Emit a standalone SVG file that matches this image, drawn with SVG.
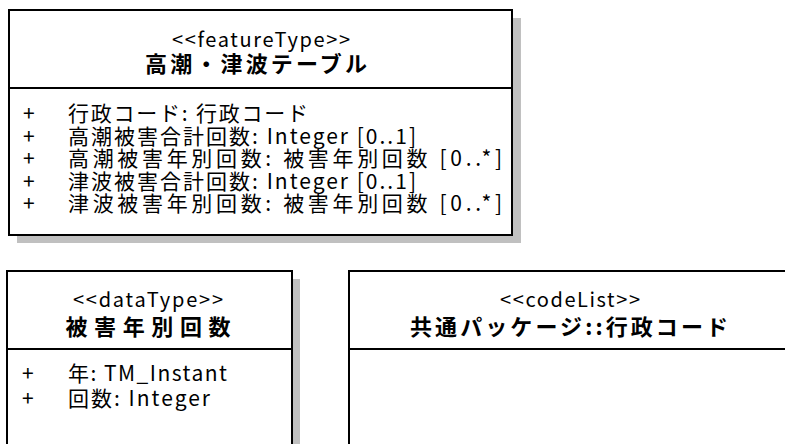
<svg xmlns="http://www.w3.org/2000/svg" width="785" height="444" viewBox="0 0 785 444">
<style>
.box{fill:#fff;stroke:#000;stroke-width:2}
.shadow{fill:#c0c0c0}
.sep{stroke:#000;stroke-width:2}
text{font-family:"Noto Sans CJK JP","Noto Sans",sans-serif;fill:#000}
.st{font-size:20px;text-anchor:middle}
.ti{font-size:22px;font-weight:bold;text-anchor:middle}
.at{font-size:21px}
</style>
<rect width="785" height="444" fill="#fff"/>
<g id="node-takashio-tsunami">
<rect class="shadow" x="17" y="18" width="504" height="225"/>
<rect class="box" x="9" y="10" width="503" height="225"/>
<line class="sep" x1="9" y1="88" x2="512" y2="88"/>
<text class="st" x="261" y="47" textLength="178" lengthAdjust="spacing">&lt;&lt;featureType&gt;&gt;</text>
<text class="ti" x="256" y="72" textLength="222" lengthAdjust="spacing">高潮・津波テーブル</text>
<text class="at" x="23" y="121">+</text>
<text class="at" x="68" y="121" textLength="240" lengthAdjust="spacing">行政コード:  行政コード</text>
<text class="at" x="23" y="143.5">+</text>
<text class="at" x="68" y="143.5" textLength="348" lengthAdjust="spacing">高潮被害合計回数:  Integer [0..1]</text>
<text class="at" x="23" y="166">+</text>
<text class="at" x="68" y="166" textLength="434" lengthAdjust="spacing">高潮被害年別回数:  被害年別回数 [0..*]</text>
<text class="at" x="23" y="188.5">+</text>
<text class="at" x="68" y="188.5" textLength="348" lengthAdjust="spacing">津波被害合計回数:  Integer [0..1]</text>
<text class="at" x="23" y="211">+</text>
<text class="at" x="68" y="211" textLength="434" lengthAdjust="spacing">津波被害年別回数:  被害年別回数 [0..*]</text>
</g>
<g id="node-higai-nenbetsu">
<rect class="shadow" x="15" y="279" width="285" height="175"/>
<rect class="box" x="7" y="271" width="285" height="183"/>
<line class="sep" x1="7" y1="349" x2="292" y2="349"/>
<text class="st" x="148" y="307" textLength="150" lengthAdjust="spacing">&lt;&lt;dataType&gt;&gt;</text>
<text class="ti" x="148" y="335" textLength="165" lengthAdjust="spacing">被害年別回数</text>
<text class="at" x="22" y="381">+</text>
<text class="at" x="68" y="381" textLength="159" lengthAdjust="spacing">年:  TM_Instant</text>
<text class="at" x="22" y="406">+</text>
<text class="at" x="68" y="406" textLength="142" lengthAdjust="spacing">回数:  Integer</text>
</g>
<g id="node-gyosei-code">
<rect class="shadow" x="357" y="279" width="440" height="175"/>
<rect class="box" x="349" y="271" width="440" height="183"/>
<line class="sep" x1="349" y1="349" x2="789" y2="349"/>
<text class="st" x="570" y="307" textLength="140" lengthAdjust="spacing">&lt;&lt;codeList&gt;&gt;</text>
<text class="ti" x="569" y="335" textLength="318" lengthAdjust="spacing">共通パッケージ::行政コード</text>
</g>
<g id="connectors"/>
</svg>
